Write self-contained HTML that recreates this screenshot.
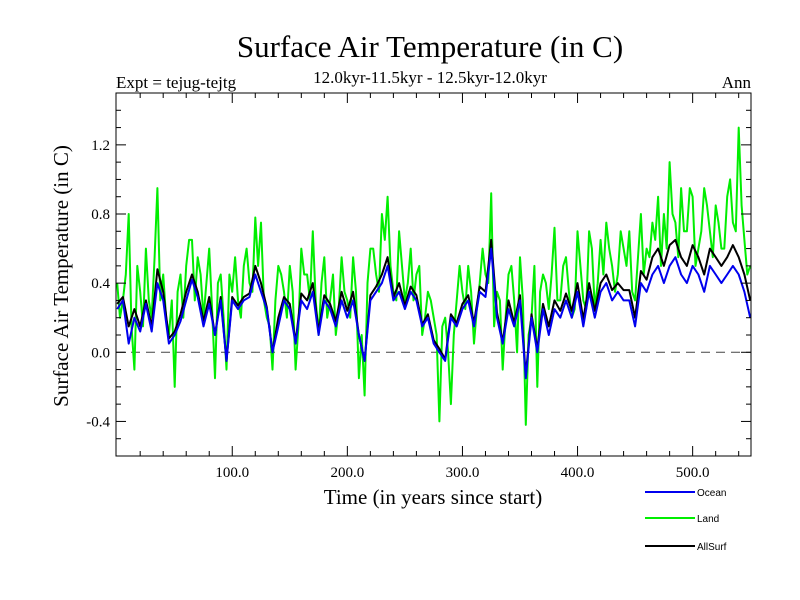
<!DOCTYPE html>
<html><head><meta charset="utf-8"><style>
body{margin:0;background:#fff;}
svg{display:block;font-family:"Liberation Serif",serif;}
</style></head><body>
<svg id="chart" width="800" height="600" viewBox="0 0 800 600">
<text x="430" y="57" font-size="31" text-anchor="middle">Surface Air Temperature (in C)</text>
<text x="430" y="83" font-size="17" text-anchor="middle">12.0kyr-11.5kyr - 12.5kyr-12.0kyr</text>
<text x="116" y="88" font-size="17">Expt = tejug-tejtg</text>
<text x="751" y="88" font-size="17" text-anchor="end">Ann</text>
<text transform="translate(68,276) rotate(-90)" font-size="21" text-anchor="middle">Surface Air Temperature (in C)</text>
<text x="433" y="504" font-size="21" text-anchor="middle">Time (in years since start)</text>
<g id="plot"></g>
<g id="axes"></g>
<g id="legend" font-family="Liberation Sans, sans-serif" font-size="10"></g>
</svg>
<script>
const years=[];for(let y=0;y<=550;y+=5)years.push(y);
const ocean=[0.25,0.3,0.05,0.2,0.12,0.28,0.12,0.4,0.3,0.05,0.1,0.18,0.3,0.42,0.32,0.15,0.28,0.1,0.3,-0.05,0.3,
0.25,0.3,0.32,0.45,0.35,0.25,0.0,0.15,0.3,0.25,0.05,0.3,0.25,0.35,0.1,0.3,0.25,0.15,0.3,0.2,
0.3,0.1,-0.05,0.3,0.35,0.4,0.5,0.3,0.35,0.25,0.35,0.3,0.15,0.2,0.05,0.0,-0.05,0.2,0.15,0.25,
0.3,0.15,0.35,0.32,0.6,0.2,0.05,0.25,0.15,0.3,-0.15,0.2,0.0,0.25,0.1,0.25,0.2,0.3,0.2,0.35,0.15,0.35,0.2,0.35,0.4,0.3,0.35,0.3,0.3,0.15,0.4,0.35,0.45,0.5,0.4,0.5,0.55,0.45,0.4,0.5,0.45,0.35,0.5,0.45,0.4,0.45,0.5,0.45,0.35,0.2];
const land=[0.4,0.3,0.8,-0.1,0.35,0.6,0.2,0.95,0.45,0.1,-0.2,0.45,0.5,0.65,0.55,0.2,0.6,-0.15,0.45,-0.1,0.35,
0.3,0.5,0.4,0.78,0.75,0.2,-0.1,0.5,0.35,0.5,-0.1,0.6,0.45,0.7,0.1,0.55,0.3,0.1,0.55,0.3,
0.55,-0.15,-0.25,0.6,0.45,0.8,0.9,0.35,0.7,0.3,0.6,0.45,0.1,0.35,0.2,-0.4,0.2,-0.3,0.3,0.35,
0.5,0.05,0.4,0.45,0.92,0.35,-0.1,0.45,0.3,0.55,-0.42,0.2,-0.2,0.45,0.25,0.72,0.3,0.55,0.2,0.7,0.3,0.7,0.25,0.65,0.75,0.5,0.45,0.6,0.7,0.3,0.8,0.6,0.75,0.9,0.8,1.1,0.75,0.95,0.7,0.9,0.6,0.95,0.7,0.85,0.6,0.9,0.75,1.3,0.65,0.5];
const landMid=[0.2,0.45,0.15,0.5,0.15,0.3,0.55,0.3,0.2,0.3,0.35,0.2,0.65,0.3,0.45,0.4,0.25,0.4,0.2,0.45,
0.55,0.2,0.6,0.35,0.5,0.3,0.15,0.3,0.45,0.2,0.35,0.15,0.45,0.3,0.3,0.4,0.2,0.45,0.25,0.35,
0.2,0.35,0.1,0.4,0.6,0.35,0.65,0.5,0.3,0.5,0.4,0.3,0.5,0.2,0.3,0.1,0.15,0.0,0.1,0.5,
0.25,0.35,0.25,0.6,0.4,0.15,0.3,0.2,0.5,0.0,0.3,0.1,0.5,0.35,0.4,0.45,0.3,0.5,0.35,0.25,
0.5,0.25,0.6,0.4,0.45,0.6,0.35,0.7,0.5,0.35,0.55,0.45,0.55,0.65,0.5,0.6,0.8,0.55,0.7,0.95,0.5,0.7,0.85,0.55,0.75,0.6,1.0,0.7,0.85,0.45];
const allsurf=[0.28,0.32,0.15,0.25,0.15,0.3,0.15,0.48,0.35,0.08,0.12,0.22,0.35,0.45,0.35,0.18,0.32,0.1,0.32,-0.05,0.32,
0.27,0.32,0.34,0.5,0.4,0.26,0.0,0.2,0.32,0.28,0.06,0.34,0.3,0.4,0.12,0.33,0.28,0.18,0.35,0.24,
0.35,0.1,-0.05,0.33,0.38,0.45,0.55,0.32,0.4,0.27,0.38,0.33,0.16,0.22,0.07,0.02,-0.04,0.22,0.17,0.28,
0.33,0.17,0.38,0.35,0.65,0.23,0.06,0.3,0.17,0.33,-0.13,0.22,0.02,0.28,0.15,0.3,0.24,0.34,0.24,0.4,0.19,0.4,0.24,0.4,0.45,0.36,0.4,0.36,0.36,0.2,0.47,0.42,0.55,0.6,0.5,0.62,0.65,0.55,0.5,0.62,0.55,0.45,0.6,0.55,0.5,0.55,0.62,0.55,0.45,0.3];
const yTicks=[-0.4,0.0,0.4,0.8,1.2];
const yTickLabels=["-0.4","0.0","0.4","0.8","1.2"];
const xTicks=[100,200,300,400,500];
const xTickLabels=["100.0","200.0","300.0","400.0","500.0"];
const L=116,R=751,T=93,B=456;
const X0=-1,X1=550.7,Y0=-0.6,Y1=1.5;
const sx=v=>L+(v-X0)/(X1-X0)*(R-L);
const sy=v=>B-(v-Y0)/(Y1-Y0)*(B-T);
const NS="http://www.w3.org/2000/svg";
function mk(tag,attrs,parent){const e=document.createElementNS(NS,tag);for(const k in attrs)e.setAttribute(k,attrs[k]);parent.appendChild(e);return e;}
const plot=document.getElementById('plot'),axes=document.getElementById('axes'),leg=document.getElementById('legend');
let z=mk('line',{x1:L,x2:R,y1:sy(0),y2:sy(0),stroke:'#444','stroke-width':1,'stroke-dasharray':'9,6'},plot);


function drawPts(pts,color,name){
  const d=pts.map((p,i)=>(i?'L':'M')+sx(p[0]).toFixed(1)+','+sy(p[1]).toFixed(1)).join('');
  const p=mk('path',{d:d,fill:'none',stroke:color,'stroke-width':2,'stroke-linejoin':'round'},plot);
  
  
}
const landPts=[];
years.forEach((y,i)=>{landPts.push([y,land[i]]);if(i<landMid.length)landPts.push([y+2.5,landMid[i]]);});
drawPts(landPts,'#00ee00','land-line');
drawPts(years.map((y,i)=>[y,allsurf[i]]),'#000','allsurf-line');
drawPts(years.map((y,i)=>[y,ocean[i]]),'#0000ee','ocean-line');
let fr=mk('rect',{x:L,y:T,width:R-L,height:B-T,fill:'none',stroke:'#000','stroke-width':1},axes);


for(let v=-0.6;v<=1.5001;v+=0.1){const y=sy(v);const major=Math.abs(Math.round(v*10)%4)===0;const len=major?10:5;
  mk('line',{x1:L,x2:L+len,y1:y,y2:y,stroke:'#000'},axes);mk('line',{x1:R,x2:R-len,y1:y,y2:y,stroke:'#000'},axes);}
yTicks.forEach((v,i)=>{const t=mk('text',{x:L-6,y:sy(v)+5,'font-size':15,'text-anchor':'end'},axes);t.textContent=yTickLabels[i];
  
  });
for(let v=20;v<=540;v+=20){const x=sx(v);const len=(v%100===0)?10:5;
  mk('line',{x1:x,x2:x,y1:B,y2:B-len,stroke:'#000'},axes);mk('line',{x1:x,x2:x,y1:T,y2:T+len,stroke:'#000'},axes);}
xTicks.forEach((v,i)=>{const t=mk('text',{x:sx(v),y:B+21,'font-size':15,'text-anchor':'middle'},axes);t.textContent=xTickLabels[i];
  
  });
const legNames=['Ocean','Land','AllSurf'],legColors=['#0000ee','#00ee00','#000'],legY=[492,518,546];
legNames.forEach((n,i)=>{const l=mk('line',{x1:645,x2:695,y1:legY[i],y2:legY[i],stroke:legColors[i],'stroke-width':2},leg);
  
  
  const t=mk('text',{x:697,y:legY[i]+4},leg);t.textContent=n;
  
  });
</script>
</body></html>
